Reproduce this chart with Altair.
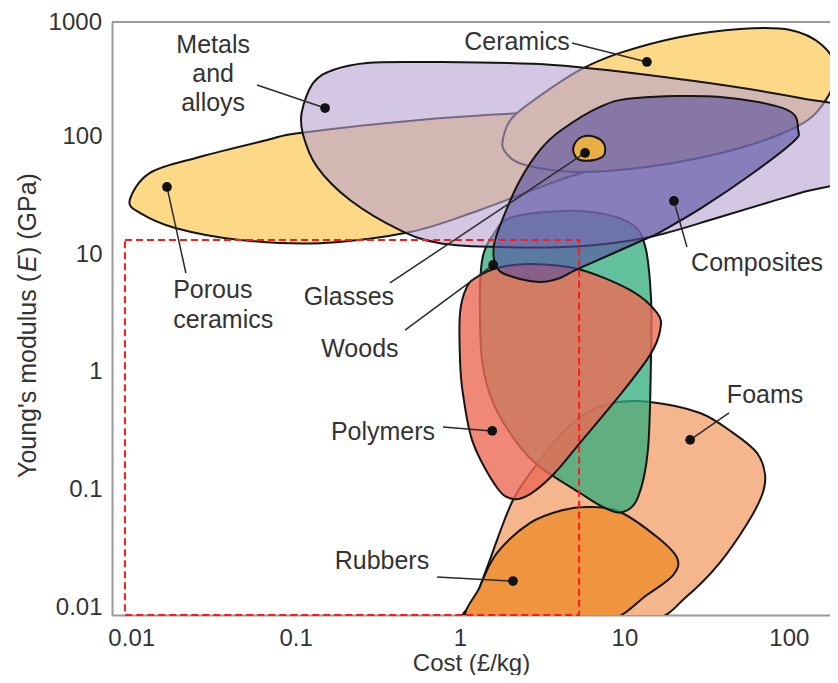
import altair as alt
import pandas as pd

# ---------------- data (cost in £/kg, Young's modulus E in GPa) ----------------
BELOW = 0.0078   # just under the bottom of the axis: these envelopes run off the chart

porous_cost = [0.0098, 0.013, 0.026, 0.067, 0.106, 0.571, 2.67, 8.17, 13.9, 15.4, 10.8, 4.06, 1.32, 0.497, 0.141, 0.0459, 0.0185, 0.0113]
porous_E = [28.8, 48.9, 66.8, 93, 107, 138, 158, 152, 125, 93, 65.6, 42.7, 23.7, 15.4, 12.4, 13.2, 16.7, 22.4]

ceramics_cost = [1.83, 2.07, 2.94, 5.37, 9.4, 21.8, 50.5, 102, 159, 194, 168, 117, 50.5, 16.5, 5.37, 2.49, 1.88]
ceramics_E = [96.9, 143, 212, 366, 511, 698, 816, 800, 597, 366, 204, 125, 79.7, 57.2, 49.9, 57.2, 73.7]

metals_cost = [0.109, 0.128, 0.169, 0.272, 0.571, 3.68, 24.0, 117, 359, 359, 117, 38.2, 14.3, 5.37, 1.75, 0.756, 0.431, 0.214, 0.135, 0.111]
metals_E = [161, 284, 366, 420, 428, 404, 301, 212, 146, 51.9, 33.1, 20.7, 14.0, 11.7, 11.5, 12.4, 16.0, 28.8, 55.0, 103]

composites_cost = [1.68, 1.61, 1.88, 2.32, 3.07, 4.06, 7.11, 11.9, 38.2, 97.5, 114, 106, 60.6, 30.1, 16.5, 13.0, 5.22, 4.06, 3.07, 2.10]
composites_E = [7.64, 12.0, 22.4, 42.7, 76.7, 111, 178, 212, 216, 168, 113, 89.6, 48.9, 25.2, 15.4, 13.2, 7.49, 6.28, 5.81, 6.40]

glasses_cost = [4.94, 5.52, 6.62, 7.52, 7.52, 6.53, 5.37, 4.94]
glasses_E = [84.5, 98.9, 98.9, 86.2, 69.5, 63.1, 63.1, 70.9]

woods_cost = [1.40, 1.59, 2.10, 5.37, 10.5, 13.3, 14.5, 14.5, 13.9, 12.1, 9.8, 7.62, 5.37, 3.07, 2.22, 1.59, 1.36, 1.32, 1.34]
woods_E = [10.4, 14.6, 20.7, 23.3, 18.8, 12.0, 4.33, 1.26, 0.218, 0.0868, 0.0648, 0.070, 0.0939, 0.156, 0.250, 0.546, 1.26, 4.08, 7.34]

polymers_cost = [1.27, 1.68, 2.67, 5.22, 10.8, 15.8, 16.5, 14.3, 9.4, 5.37, 3.68, 2.67, 2.10, 1.68, 1.20, 1.04, 1.00, 1.00, 1.10]
polymers_E = [6.40, 7.64, 8.26, 7.49, 4.97, 3.17, 2.27, 1.39, 0.638, 0.250, 0.134, 0.092, 0.0836, 0.104, 0.250, 0.663, 1.26, 3.17, 5.27]

foams_cost = [1.12, 1.25, 1.48, 2.10, 3.07, 4.24, 5.92, 8.41, 14.3, 28.8, 45.8, 64.1, 71.7, 68.7, 56.0, 38.0, 24.0, 14.5, 4.35]
foams_E = [BELOW, 0.0121, 0.0230, 0.0819, 0.179, 0.310, 0.449, 0.546, 0.556, 0.449, 0.304, 0.205, 0.134, 0.0903, 0.0520, 0.0240, 0.0125, BELOW, BELOW]

rubbers_cost = [1.12, 1.32, 1.68, 2.67, 4.24, 6.18, 9.4, 15.8, 20.9, 19.8, 13.7, 8.0, 3.07]
rubbers_E = [BELOW, 0.0150, 0.0291, 0.0523, 0.0674, 0.0714, 0.0648, 0.0397, 0.0264, 0.0189, 0.0128, BELOW, BELOW]

# labels (centred)
label_text = ["Metals", "and", "alloys", "Ceramics", "Glasses", "Woods", "Polymers", "Rubbers", "Foams", "Composites"]
label_cost = [0.0315, 0.0315, 0.0315, 2.22, 0.211, 0.246, 0.340, 0.335, 71.7, 64.1]
label_E = [597, 339, 192, 633, 4.33, 1.57, 0.310, 0.0249, 0.638, 8.42]

# labels (left aligned)
left_text = ["Porous", "ceramics"]
left_cost = [0.0180, 0.0180]
left_E = [4.97, 2.76]

# leader lines: label end -> dot
lead_cost = [0.0582, 4.80, 0.0215, 0.375, 0.463, 0.788, 0.725, 43.3, 24.0]
lead_E = [273, 621, 6.92, 5.70, 2.27, 0.341, 0.0182, 0.449, 11.5]
dot_cost = [0.151, 13.7, 0.0165, 5.76, 1.59, 1.57, 2.10, 25.1, 20.0]
dot_E = [174, 428, 37.2, 72.3, 8.10, 0.316, 0.0168, 0.265, 28.3]

# highlighted region (red dashed box)
box_cost = [0.00916, 5.3]
box_E = [0.00865, 13.2]

tick_values = [0.01, 0.1, 1, 10, 100]

# ---------------- chart ----------------
X_DOMAIN = [0.00764, 178]
Y_DOMAIN = [0.00865, 935]
W, H = 718, 593
FONT = "Liberation Sans"
TXT = "#333333"
TICK_FS = 24
LAB_FS = 25
TITLE_FS = 25

xenc = alt.X("cost:Q", scale=alt.Scale(type="log", domain=X_DOMAIN),
             axis=alt.Axis(values=tick_values, format="~g", title="Cost (£/kg)",
                           grid=False, ticks=False, domainColor="#9a9a9a", domainWidth=2,
                           labelFont=FONT, labelFontSize=TICK_FS, labelColor=TXT, labelPadding=11,
                           titleFont=FONT, titleFontSize=24, titleColor=TXT,
                           titleFontWeight="normal", titlePadding=1))
yenc = alt.Y("E:Q", scale=alt.Scale(type="log", domain=Y_DOMAIN),
             axis=alt.Axis(values=tick_values, format="~g", title="",
                           grid=False, ticks=False, domainColor="#9a9a9a", domainWidth=2,
                           labelFont=FONT, labelFontSize=TICK_FS, labelColor=TXT, labelPadding=10))


def shape(xs, ys, fill, op):
    df = pd.DataFrame({"cost": xs, "E": ys, "i": list(range(len(xs)))})
    return alt.Chart(df).mark_line(
        interpolate="cardinal-closed", fill=fill, fillOpacity=op,
        stroke="#151515", strokeWidth=2, clip=True
    ).encode(x=xenc, y=yenc, order=alt.Order("i:Q"))


layers = [
    shape(foams_cost, foams_E, "#f6b68d", 1.0),
    shape(rubbers_cost, rubbers_E, "#f0953f", 1.0),
    shape(woods_cost, woods_E, "#2fab7c", 0.75),
    shape(polymers_cost, polymers_E, "#ec6a55", 0.8),
    shape(porous_cost, porous_E, "#fdd886", 1.0),
    shape(ceramics_cost, ceramics_E, "#fdd886", 1.0),
    shape(metals_cost, metals_E, "#b8a1d1", 0.6),
    shape(composites_cost, composites_E, "#554ca0", 0.6),
    shape(glasses_cost, glasses_E, "#e9ae45", 1.0),
]

box_df = pd.DataFrame({"cost": [box_cost[0]], "cost2": [box_cost[1]], "E": [box_E[0]], "E2": [box_E[1]]})
box = alt.Chart(box_df).mark_rect(
    fillOpacity=0, stroke="#ff1a1a", strokeWidth=2, strokeDash=[7, 4]
).encode(x=xenc, x2="cost2:Q", y=yenc, y2="E2:Q")

lead_df = pd.DataFrame({"cost": lead_cost, "E": lead_E, "cost2": dot_cost, "E2": dot_E})
leaders = alt.Chart(lead_df).mark_rule(color="#2a2a2a", strokeWidth=1.5).encode(
    x=xenc, y=yenc, x2="cost2:Q", y2="E2:Q")

dot_df = pd.DataFrame({"cost": dot_cost, "E": dot_E})
dots = alt.Chart(dot_df).mark_circle(size=95, color="#111111", opacity=1).encode(x=xenc, y=yenc)

lab_df = pd.DataFrame({"cost": label_cost, "E": label_E, "t": label_text})
labels = alt.Chart(lab_df).mark_text(
    font=FONT, fontSize=LAB_FS, color=TXT, align="center", baseline="middle"
).encode(x=xenc, y=yenc, text="t:N")

left_df = pd.DataFrame({"cost": left_cost, "E": left_E, "t": left_text})
left_labels = alt.Chart(left_df).mark_text(
    font=FONT, fontSize=LAB_FS, color=TXT, align="left", baseline="middle"
).encode(x=xenc, y=yenc, text="t:N")

# frame top line and the "1000" tick label at the frame top
top_line = alt.Chart(pd.DataFrame({"a": [0]})).mark_rule(color="#9a9a9a", strokeWidth=2).encode(
    x=alt.value(0), x2=alt.value(W), y=alt.value(0))
top_label = alt.Chart(pd.DataFrame({"t": ["1000"]})).mark_text(
    font=FONT, fontSize=TICK_FS, color=TXT, align="right", baseline="middle"
).encode(x=alt.value(-10), y=alt.value(1), text="t:N")

# y-axis title with italic E
yt_df = pd.DataFrame({"a": [0]})
yt1 = alt.Chart(yt_df).mark_text(font=FONT, fontSize=TITLE_FS, color=TXT, angle=270, align="left",
                                  baseline="middle", text="Young's modulus (").encode(
    x=alt.value(-84), y=alt.value(456))
yt2 = alt.Chart(yt_df).mark_text(font=FONT, fontSize=TITLE_FS, color=TXT, angle=270, align="left",
                                  baseline="middle", fontStyle="italic", text="E").encode(
    x=alt.value(-84), y=alt.value(250))
yt3 = alt.Chart(yt_df).mark_text(font=FONT, fontSize=TITLE_FS, color=TXT, angle=270, align="left",
                                  baseline="middle", text=")  (GPa)").encode(
    x=alt.value(-84), y=alt.value(233))

chart = alt.layer(
    *layers, box, leaders, dots, labels, left_labels, top_line, top_label, yt1, yt2, yt3
).properties(
    width=W, height=H,
    autosize=alt.AutoSizeParams(type="none"),
    padding={"left": 104, "top": 14, "right": 0, "bottom": 60},
).configure_view(stroke="transparent").configure(background="white")

chart.save("out.html", embed_options={"renderer": "svg", "actions": False})
